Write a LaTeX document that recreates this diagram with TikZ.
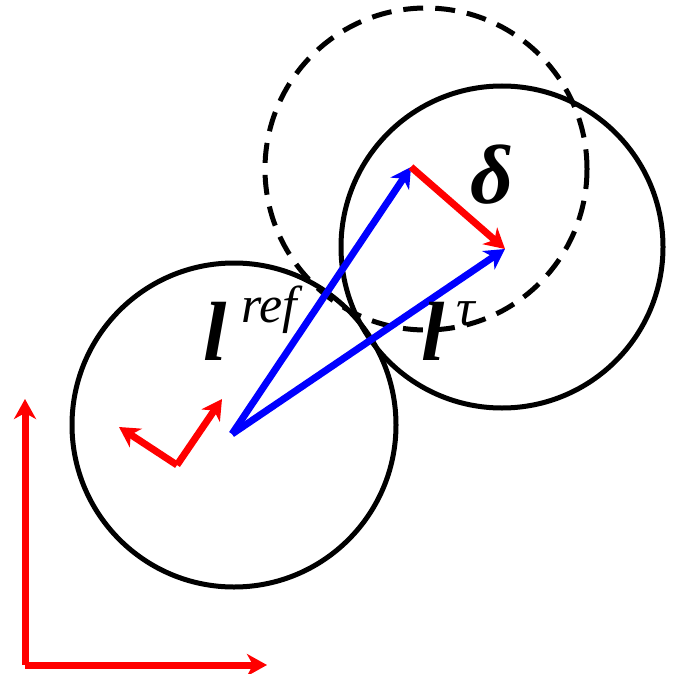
\documentclass[tikz,border=0pt]{standalone}
\usepackage{fontspec}
\setmainfont{Liberation Serif}
\usetikzlibrary{arrows.meta}
\begin{document}
\begin{tikzpicture}[x=1pt,y=-1pt,
  circ/.style={line width=5pt,draw=black},
  dcirc/.style={line width=5pt,draw=black,dash pattern=on 20pt off 12pt},
  redarr/.style={line width=7pt,draw=red,-{Stealth[length=20pt,width=22pt,inset=6pt]}},
  bluearr/.style={line width=7pt,draw=blue,-{Stealth[length=20pt,width=22pt,inset=6pt]}},
  lbl/.style={inner sep=0pt,anchor=base west,font=\fontsize{84}{84}\selectfont\bfseries\itshape},
  sup/.style={inner sep=0pt,anchor=base west,font=\fontsize{52}{52}\selectfont\itshape}]
\useasboundingbox (0,0) rectangle (673,674);
\draw[circ] (234,425) circle[radius=162];
\draw[circ] (502,247) circle[radius=161];
\draw[dcirc] (426,169) circle[radius=161];
% axes
\coordinate (O) at (25,665);
\coordinate (Ox) at (267,665);
\coordinate (Oy) at (25,399);
\draw[redarr] (O) -- (Ox);
\draw[redarr] (O) -- (Oy);
% small frame
\coordinate (F) at (177,465);
\coordinate (Fa) at (119,427);
\coordinate (Fb) at (222,399);
\draw[redarr] (F) -- (Fa);
\draw[redarr] (F) -- (Fb);
% blue
\coordinate (B) at (232,434);
\coordinate (T1) at (411,167);
\coordinate (T2) at (505,249);
\draw[bluearr] (B) -- (T1);
\draw[bluearr] (B) -- (T2);
\draw[redarr] (T1) -- (T2);
% labels
\node[lbl] (lref) at (203,360) {l};
\node[sup] (ref) at (241,322) {ref};
\node[lbl] (ltau) at (421,360) {l};
\node[sup] (tau) at (456,325) {τ};
\node[lbl] (delta) at (470,203) {δ};
\end{tikzpicture}
\end{document}
